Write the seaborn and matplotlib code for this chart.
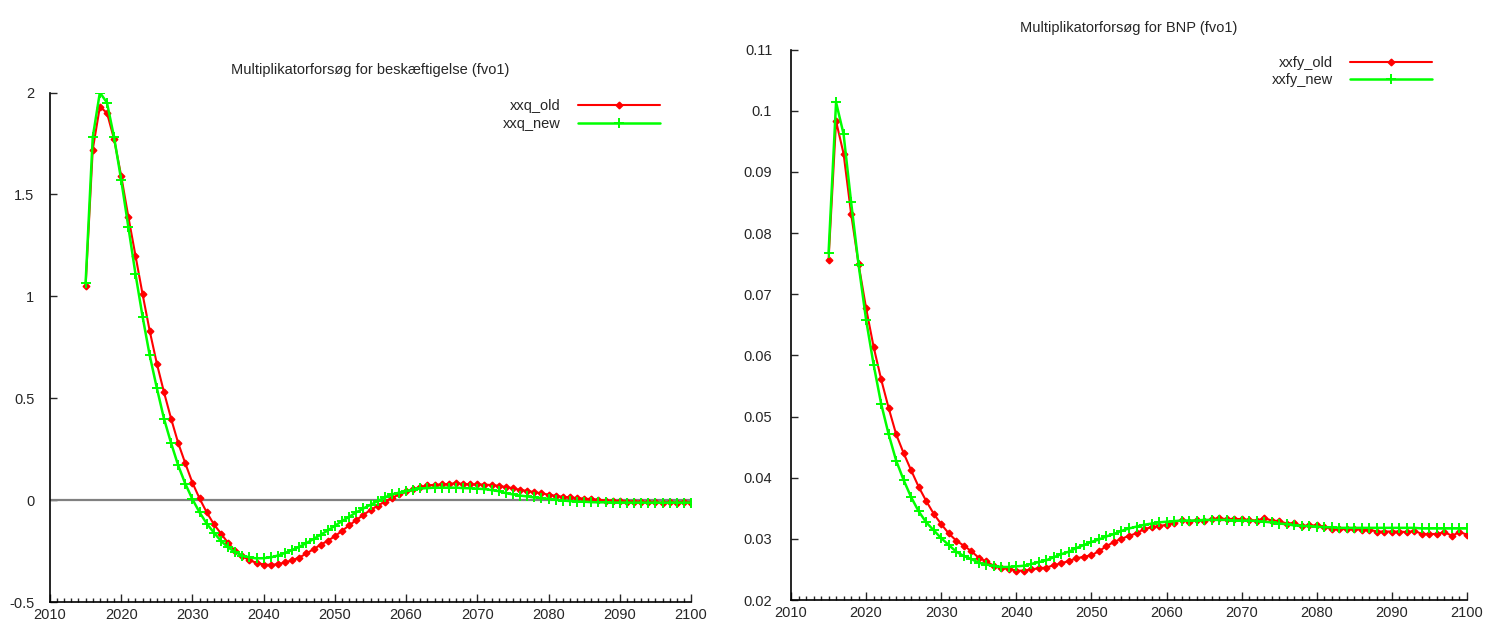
import numpy as np
import pandas as pd
import matplotlib
matplotlib.use('Agg')
import matplotlib.pyplot as plt
from matplotlib.ticker import MultipleLocator
import seaborn as sns

# Multiplikatorforsoeg, fvo1 - two panels: employment and GDP
years = list(range(2015, 2101))

xxq_old = [1.05, 1.72, 1.93, 1.90, 1.77, 1.59, 1.39, 1.20, 1.01, 0.83,
           0.67, 0.53, 0.40, 0.28, 0.18, 0.085, 0.008, -0.060, -0.118, -0.164,
           -0.210, -0.249, -0.275, -0.295, -0.308, -0.316, -0.318, -0.314, -0.306, -0.295,
           -0.282, -0.262, -0.241, -0.219, -0.200, -0.177, -0.151, -0.124, -0.098, -0.072,
           -0.049, -0.028, -0.008, 0.010, 0.028, 0.043, 0.054, 0.065, 0.072, 0.075,
           0.077, 0.079, 0.083, 0.079, 0.078, 0.077, 0.076, 0.074, 0.070, 0.064,
           0.058, 0.050, 0.045, 0.039, 0.033, 0.027, 0.021, 0.016, 0.013, 0.010,
           0.007, 0.005, 0.002, -0.002, -0.003, -0.005, -0.007, -0.007, -0.008, -0.011,
           -0.010, -0.013, -0.008, -0.013, -0.007, -0.012]
xxq_new = [1.066, 1.78, 2.00, 1.95, 1.78, 1.57, 1.34, 1.11, 0.90, 0.71,
           0.55, 0.40, 0.28, 0.17, 0.08, 0.004, -0.060, -0.115, -0.159, -0.200,
           -0.232, -0.255, -0.272, -0.281, -0.286, -0.285, -0.281, -0.272, -0.259, -0.245,
           -0.229, -0.211, -0.191, -0.170, -0.149, -0.126, -0.103, -0.082, -0.060, -0.041,
           -0.023, -0.005, 0.013, 0.028, 0.036, 0.044, 0.052, 0.057, 0.059, 0.061,
           0.061, 0.061, 0.061, 0.059, 0.058, 0.056, 0.054, 0.049, 0.044, 0.034,
           0.028, 0.022, 0.018, 0.013, 0.010, 0.006, 0.002, -0.002, -0.005, -0.007,
           -0.008, -0.010, -0.011, -0.011, -0.012, -0.012, -0.012, -0.013, -0.012, -0.013,
           -0.012, -0.013, -0.012, -0.012, -0.013, -0.012]

xxfy_old = [0.0756, 0.0983, 0.0930, 0.0832, 0.0749, 0.0677, 0.0614, 0.0561, 0.0514, 0.0471,
            0.0440, 0.0412, 0.0385, 0.0362, 0.0341, 0.0324, 0.0309, 0.0297, 0.0289, 0.0280,
            0.0269, 0.0263, 0.0256, 0.0252, 0.0251, 0.0248, 0.0248, 0.0250, 0.0252, 0.0253,
            0.0257, 0.0260, 0.0264, 0.0268, 0.0271, 0.0273, 0.0280, 0.0288, 0.0295, 0.0300,
            0.0305, 0.0309, 0.0316, 0.0319, 0.0321, 0.0323, 0.0326, 0.0331, 0.0328, 0.0331,
            0.0329, 0.0332, 0.0334, 0.0332, 0.0333, 0.0332, 0.0331, 0.0330, 0.0334, 0.0330,
            0.0329, 0.0325, 0.0326, 0.0321, 0.0322, 0.0322, 0.0320, 0.0316, 0.0316, 0.0316,
            0.0316, 0.0315, 0.0315, 0.0312, 0.0312, 0.0312, 0.0312, 0.0311, 0.0313, 0.0308,
            0.0308, 0.0308, 0.0311, 0.0305, 0.0311, 0.0307]
xxfy_new = [0.0767, 0.1014, 0.0962, 0.0851, 0.0748, 0.0658, 0.0585, 0.0521, 0.0471, 0.0428,
            0.0396, 0.0368, 0.0345, 0.0327, 0.0314, 0.0301, 0.0290, 0.0279, 0.0272, 0.0267,
            0.0261, 0.0258, 0.0256, 0.0254, 0.0254, 0.0255, 0.0256, 0.0259, 0.0262, 0.0265,
            0.0270, 0.0275, 0.0279, 0.0285, 0.0290, 0.0295, 0.0299, 0.0304, 0.0308, 0.0313,
            0.0317, 0.0320, 0.0323, 0.0325, 0.0327, 0.0328, 0.0329, 0.0330, 0.0330, 0.0330,
            0.0331, 0.0331, 0.0331, 0.0331, 0.0330, 0.0330, 0.0330, 0.0329, 0.0328, 0.0327,
            0.0325, 0.0324, 0.0322, 0.0321, 0.0321, 0.0320, 0.0319, 0.0319, 0.0318, 0.0318,
            0.0318, 0.0318, 0.0318, 0.0318, 0.0318, 0.0318, 0.0318, 0.0318, 0.0318, 0.0317,
            0.0317, 0.0317, 0.0317, 0.0317, 0.0317, 0.0317]

left_yticks = [-0.5, 0, 0.5, 1, 1.5, 2]
left_ylabels = ['-0.5', '0', '0.5', '1', '1.5', '2']
right_yticks = [0.02, 0.03, 0.04, 0.05, 0.06, 0.07, 0.08, 0.09, 0.1, 0.11]
right_ylabels = ['0.02', '0.03', '0.04', '0.05', '0.06', '0.07', '0.08', '0.09', '0.1', '0.11']

sns.set_style('white')
plt.rcParams['font.family'] = ['Liberation Sans', 'DejaVu Sans']
plt.rcParams['font.size'] = 10.5

df = pd.DataFrame({'year': years, 'xxq_old': xxq_old, 'xxq_new': xxq_new,
                   'xxfy_old': xxfy_old, 'xxfy_new': xxfy_new})

fig = plt.figure(figsize=(14.9, 6.28), dpi=100)
ax1 = fig.add_axes([50 / 1490, 26 / 628, 641 / 1490, 509.5 / 628])
ax2 = fig.add_axes([791 / 1490, 28 / 628, 676 / 1490, 550.3 / 628])

# seaborn paints marker edges white by default, so give them the line colour
red_style = dict(color='#ff0000', marker='D', markersize=3.4, markeredgewidth=1.0,
                 markeredgecolor='#ff0000', markerfacecolor='#ff0000', linewidth=1.5)
green_style = dict(color='#00ff00', marker='+', markersize=7, markeredgewidth=1.4,
                   markeredgecolor='#00ff00', linewidth=1.8)

ax1.axhline(0, color='#808080', linewidth=1.6, zorder=1)
sns.lineplot(data=df, x='year', y='xxq_old', ax=ax1, label='xxq_old', zorder=3, **red_style)
sns.lineplot(data=df, x='year', y='xxq_new', ax=ax1, label='xxq_new', zorder=4, **green_style)

sns.lineplot(data=df, x='year', y='xxfy_old', ax=ax2, label='xxfy_old', zorder=3, **red_style)
sns.lineplot(data=df, x='year', y='xxfy_new', ax=ax2, label='xxfy_new', zorder=4, **green_style)

panels = [(ax1, 'Multiplikatorforsøg for beskæftigelse (fvo1)', (-0.5, 2), left_yticks, left_ylabels, 11.2, (0.951, 0.987)),
          (ax2, 'Multiplikatorforsøg for BNP (fvo1)', (0.02, 0.11), right_yticks, right_ylabels, 13.5, (0.948, 0.989))]

for ax, title, ylim, yt, yl, ypad, anchor in panels:
    ax.set_xlim(2010, 2100)
    ax.set_ylim(*ylim)
    ax.set_yticks(yt)
    ax.set_yticklabels(yl)
    ax.xaxis.set_major_locator(MultipleLocator(10))
    ax.xaxis.set_minor_locator(MultipleLocator(1))
    ax.set_xlabel('')
    ax.set_ylabel('')
    ax.set_title(title, fontsize=10.5, pad=13)
    for s in ['top', 'right']:
        ax.spines[s].set_visible(False)
    for s in ['left', 'bottom']:
        ax.spines[s].set_color('black')
        ax.spines[s].set_linewidth(1.2)
    ax.tick_params(axis='x', which='major', direction='in', length=6, width=1, pad=4, labelsize=10.5, bottom=True)
    ax.tick_params(axis='x', which='minor', direction='in', length=3, width=1, bottom=True)
    ax.tick_params(axis='y', which='major', direction='in', length=5, width=1, pad=ypad, labelsize=10.5, left=True)
    ax.legend(loc='upper right', bbox_to_anchor=anchor, frameon=False, markerfirst=False,
              handlelength=5.6, handletextpad=1.2, labelspacing=0.25, borderpad=0,
              borderaxespad=0, fontsize=10.5)

fig.savefig('out.png', dpi=100)
